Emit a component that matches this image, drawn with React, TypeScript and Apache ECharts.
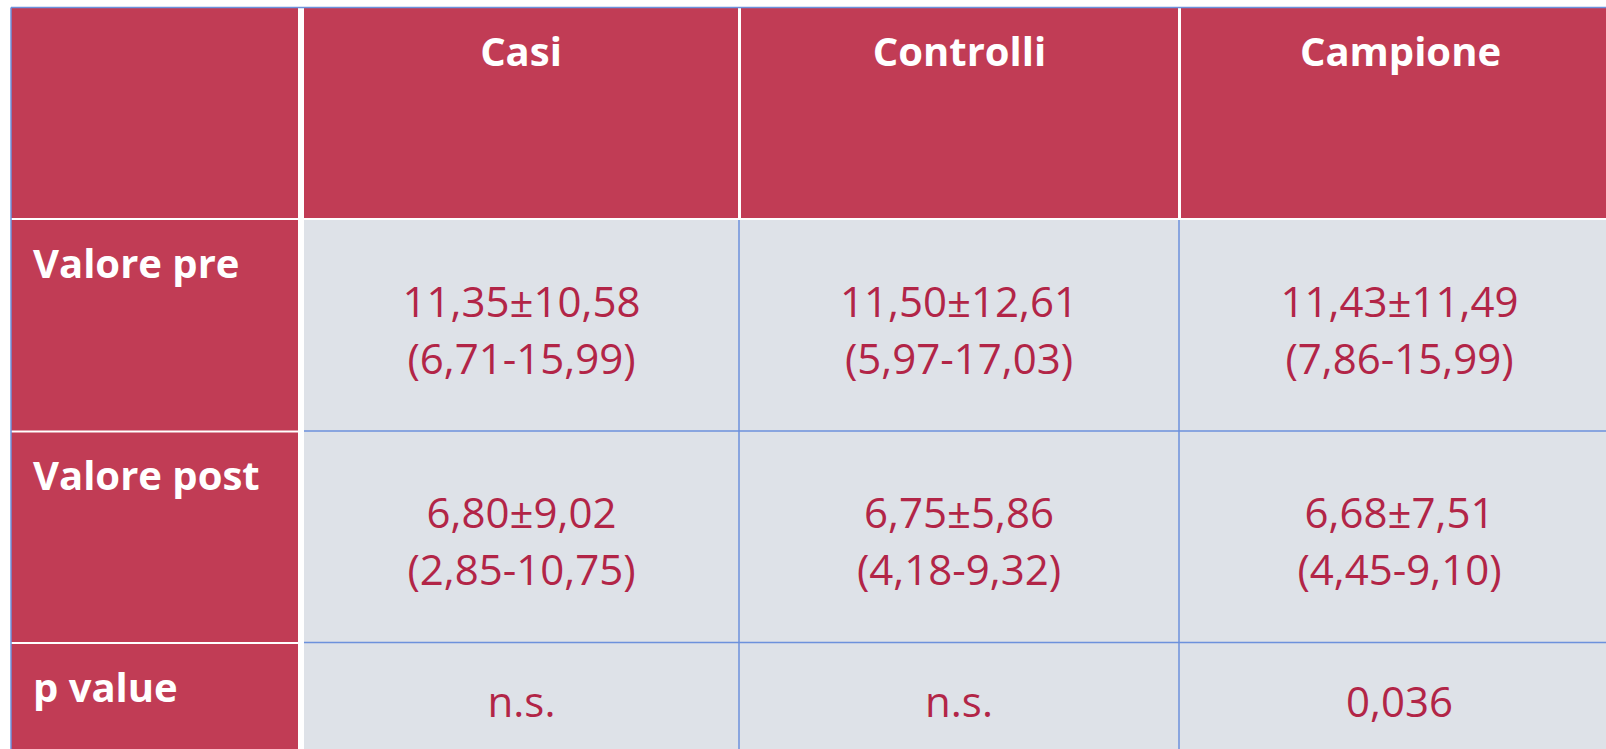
import React, { useEffect, useRef } from "react";
import * as echarts from "echarts";

// ---- data ----
const columnHeaders: string[] = ["Casi", "Controlli", "Campione"];
const rowLabels: string[] = ["Valore pre", "Valore post", "p value"];
const meanSd: string[][] = [
  ["11,35±10,58", "11,50±12,61", "11,43±11,49"],
  ["6,80±9,02", "6,75±5,86", "6,68±7,51"],
];
const confInt: string[][] = [
  ["(6,71-15,99)", "(5,97-17,03)", "(7,86-15,99)"],
  ["(2,85-10,75)", "(4,18-9,32)", "(4,45-9,10)"],
];
const pValues: string[] = ["n.s.", "n.s.", "0,036"];

// ---- layout (axis units == page pixels) ----
const W = 1606;
const H = 749;
const headerColEdges = [[11, 298], [304, 738], [741, 1178], [1181, 1620]];
const bodyColEdges = [[11, 298], [304, 739], [739, 1179], [1179, 1620]];
const headerRowEdges = [8, 218];
const labelRowEdges = [[220, 430.5], [432.5, 642], [644, 760]];
const bodyRowEdges = [[220, 431], [431, 642.5], [642.5, 760]];

const RED = "#C13C55";
const GRAY = "#DEE2E8";
const TXT = "#B22547";
const BLUE = "#6C91DC";
const FONT = "'Open Sans', sans-serif";

type Cell = { value: [number, number]; kind: string; lines: string[] };

function buildCells(): Cell[] {
  const cells: Cell[] = [];
  cells.push({ value: [0, 0], kind: "corner", lines: [] });
  columnHeaders.forEach((h, i) => cells.push({ value: [i + 1, 0], kind: "header", lines: [h] }));
  rowLabels.forEach((r, j) => cells.push({ value: [0, j + 1], kind: "label", lines: [r] }));
  for (let j = 0; j < meanSd.length; j++) {
    for (let i = 0; i < columnHeaders.length; i++) {
      cells.push({ value: [i + 1, j + 1], kind: "data", lines: [meanSd[j][i], confInt[j][i]] });
    }
  }
  pValues.forEach((p, i) => cells.push({ value: [i + 1, 3], kind: "data", lines: [p] }));
  return cells;
}

export default function App() {
  const ref = useRef<HTMLDivElement>(null);
  useEffect(() => {
    if (!ref.current) return;
    const chart = echarts.init(ref.current, undefined, { renderer: "svg" });
    const cells = buildCells();
    chart.setOption({
      animation: false,
      backgroundColor: "#ffffff",
      grid: { left: 0, top: 0, right: 0, bottom: 0 },
      xAxis: { type: "value", min: 0, max: W, show: false },
      yAxis: { type: "value", min: 0, max: H, inverse: true, show: false },
      series: [
        {
          type: "custom",
          coordinateSystem: "cartesian2d",
          clip: false,
          data: cells,
          renderItem: (params: any, api: any) => {
            const cell = cells[params.dataIndex];
            const col = api.value(0);
            const row = api.value(1);
            const children: any[] = [];
            let x0: number, x1: number, y0: number, y1: number;
            if (row === 0) {
              [x0, x1] = headerColEdges[col];
              [y0, y1] = headerRowEdges;
            } else if (col === 0) {
              [x0, x1] = bodyColEdges[0];
              [y0, y1] = labelRowEdges[row - 1];
            } else {
              [x0, x1] = bodyColEdges[col];
              [y0, y1] = bodyRowEdges[row - 1];
            }
            const p0 = api.coord([x0, y0]);
            const p1 = api.coord([x1, y1]);
            const fill = cell.kind === "data" ? GRAY : RED;
            children.push({
              type: "rect",
              shape: { x: p0[0], y: p0[1], width: p1[0] - p0[0], height: p1[1] - p0[1] },
              style: { fill },
            });
            if (cell.kind === "data") {
              if (col >= 2) {
                children.push({
                  type: "line",
                  shape: { x1: p0[0], y1: p0[1], x2: p0[0], y2: p1[1] },
                  style: { stroke: BLUE, lineWidth: 1.5 },
                });
              }
              if (row >= 2) {
                children.push({
                  type: "line",
                  shape: { x1: p0[0], y1: p0[1], x2: p1[0], y2: p0[1] },
                  style: { stroke: BLUE, lineWidth: 1.5 },
                });
              }
              const cx = (p0[0] + p1[0]) / 2;
              const n = cell.lines.length;
              const topY = p0[1];
              cell.lines.forEach((t, k) => {
                const yy = n === 2 ? topY + 80 + k * 57 : topY + 58;
                children.push({
                  type: "text",
                  style: {
                    text: t,
                    x: cx,
                    y: yy,
                    align: "center",
                    verticalAlign: "middle",
                    fill: TXT,
                    fontSize: 42,
                    fontFamily: FONT,
                  },
                });
              });
            } else if (cell.kind === "header") {
              children.push({
                type: "text",
                style: {
                  text: cell.lines[0],
                  x: (p0[0] + p1[0]) / 2,
                  y: p0[1] + 42,
                  align: "center",
                  verticalAlign: "middle",
                  fill: "#ffffff",
                  fontSize: 40,
                  fontWeight: "bold",
                  fontFamily: FONT,
                },
              });
            } else if (cell.kind === "label") {
              children.push({
                type: "text",
                style: {
                  text: cell.lines[0],
                  x: p0[0] + 22,
                  y: p0[1] + 42,
                  align: "left",
                  verticalAlign: "middle",
                  fill: "#ffffff",
                  fontSize: 40,
                  fontWeight: "bold",
                  fontFamily: FONT,
                },
              });
            }
            return { type: "group", children };
          },
        },
      ],
      graphic: [
        {
          type: "line",
          shape: { x1: 11, y1: 7.5, x2: W, y2: 7.5 },
          style: { stroke: BLUE, lineWidth: 1.5 },
          z: 100,
        },
        {
          type: "line",
          shape: { x1: 11, y1: 7.5, x2: 11, y2: H },
          style: { stroke: BLUE, lineWidth: 1.5 },
          z: 100,
        },
      ],
    });
    return () => chart.dispose();
  }, []);
  return (
    <div
      ref={ref}
      style={{ position: "fixed", left: 0, top: 0, width: W, height: H }}
    />
  );
}
